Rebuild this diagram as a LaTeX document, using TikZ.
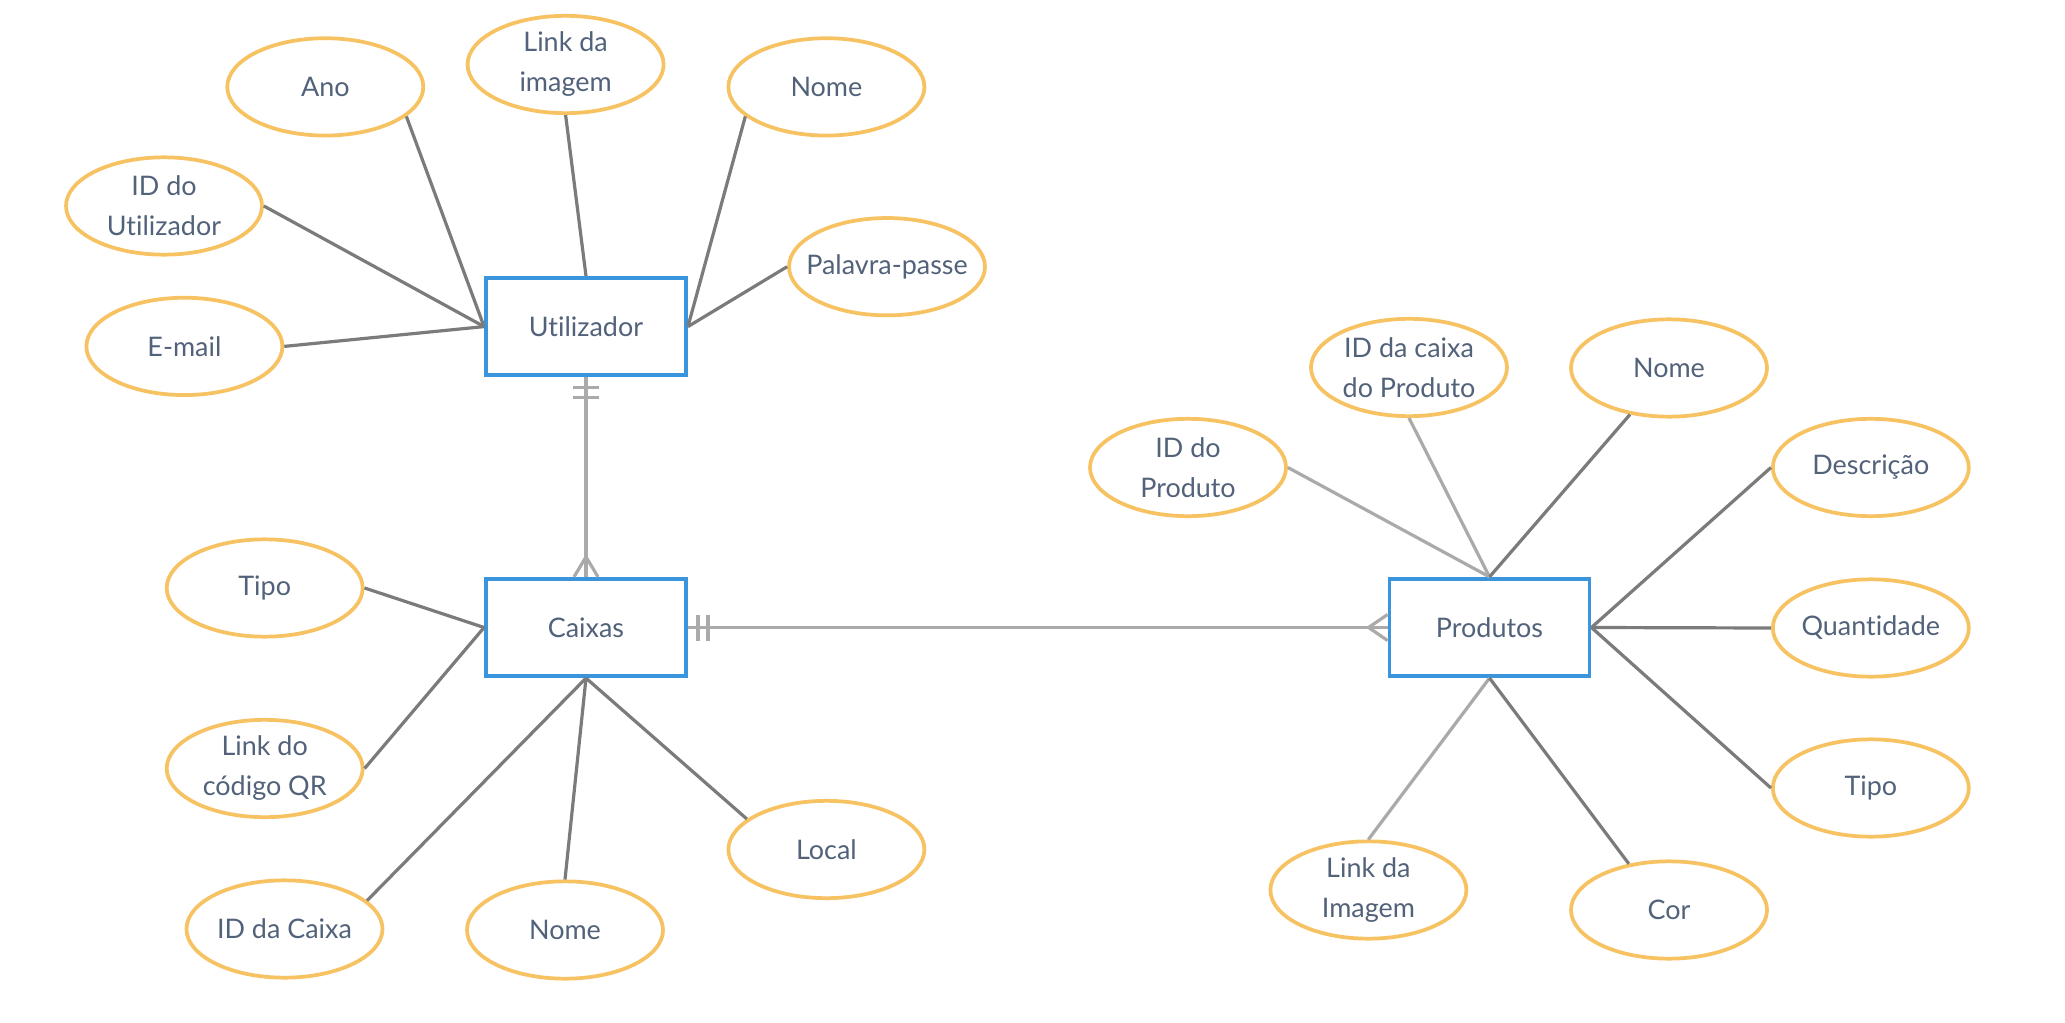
\documentclass[tikz,border=0pt]{standalone}
\usepackage{fontspec}
\setmainfont{Lato}[Ligatures=NoCommon]
\usetikzlibrary{shapes.geometric}
\definecolor{txt}{HTML}{52627A}
\definecolor{orn}{HTML}{F7C262}
\definecolor{blu}{HTML}{3A95DD}
\definecolor{dk}{HTML}{7B7B7B}
\definecolor{lt}{HTML}{AAAAAA}
\begin{document}
\begin{tikzpicture}[x=0.75pt,y=-0.75pt,
  lbl/.style={text=txt, font=\fontsize{20.2}{30}\selectfont, align=center, inner sep=0pt},
  attr/.style={ellipse, draw=orn, line width=2.8pt, fill=white, minimum width=147pt, minimum height=73pt, inner sep=0pt},
  ent/.style={rectangle, draw=blu, line width=2.9pt, fill=white, minimum width=150pt, minimum height=73pt, inner sep=0pt, lbl},
  conD/.style={draw=dk, line width=2.4pt},
  conL/.style={draw=lt, line width=2.4pt}]
\useasboundingbox (0,0) rectangle (2065,1023);
\fill[white] (0,0) rectangle (2065,1023);
% entities
\node[ent] (u) at (586,326.6) {Utilizador};
\node[ent] (c) at (586,627.5) {Caixas};
\node[ent] (p) at (1489.5,627.5) {Produtos};
% Utilizador attributes
\node[attr, label={[lbl]center:Ano}] (ano) at (325.3,86.9) {};
\node[attr, label={[lbl]center:Link da\\imagem}] (lki) at (565.6,64.5) {};
\node[attr, label={[lbl]center:Nome}] (nmu) at (826.4,86.9) {};
\node[attr, label={[lbl]center:ID do\\Utilizador}] (idu) at (164,206) {};
\node[attr, label={[lbl]center:Palavra-passe}] (pp) at (887,266.7) {};
\node[attr, label={[lbl]center:E-mail}] (em) at (184.4,346.4) {};
% Caixas attributes
\node[attr, label={[lbl]center:Tipo}] (tpc) at (264.7,588) {};
\node[attr, label={[lbl]center:Link do\\código QR}] (qr) at (264.7,768.5) {};
\node[attr, label={[lbl]center:ID da Caixa}] (idc) at (284.5,929) {};
\node[attr, label={[lbl]center:Nome}] (nmc) at (565,930) {};
\node[attr, label={[lbl]center:Local}] (loc) at (826.4,849.5) {};
% Produtos attributes
\node[attr, label={[lbl]center:ID do\\Produto}] (idp) at (1188,467.5) {};
\node[attr, label={[lbl]center:ID da caixa\\do Produto}] (idcp) at (1409,367.5) {};
\node[attr, label={[lbl]center:Nome}] (nmp) at (1669,368) {};
\node[attr, label={[lbl]center:Descrição}] (dsc) at (1870.8,467.5) {};
\node[attr, label={[lbl]center:Quantidade}] (qtd) at (1870.8,628) {};
\node[attr, label={[lbl]center:Tipo}] (tpp) at (1870.8,788) {};
\node[attr, label={[lbl]center:Link da\\Imagem}] (lkp) at (1368.4,890) {};
\node[attr, label={[lbl]center:Cor}] (cor) at (1669,910) {};
% connectors Utilizador
\draw[conD] (ano.-20) -- (u.west);
\draw[conD] (idu.east) -- (u.west);
\draw[conD] (em.east) -- (u.west);
\draw[conD] (lki.south) -- (u.north);
\draw[conD] (nmu.-160) -- (u.east);
\draw[conD] (pp.west) -- (u.east);
% connectors Caixas
\draw[conD] (tpc.east) -- (c.west);
\draw[conD] (qr.east) -- (c.west);
\draw[conD] (idc.19) -- (c.south);
\draw[conD] (nmc.north) -- (c.south);
\draw[conD] (loc.159) -- (c.south);
% connectors Produtos
\draw[conL] (idp.east) -- (p.north);
\draw[conL] (idcp.south) -- (p.north);
\draw[conD] (nmp.-130) -- (p.north);
\draw[conD] (dsc.west) -- (p.east);
\draw[conD] (qtd.west) -- (p.east);
\draw[conD] (tpp.west) -- (p.east);
\draw[conL] (lkp.north) -- (p.south);
\draw[conD] (cor.131) -- (p.south);
% relationships
\draw[conL] (u.south) -- (c.north);
\draw[conL] ([shift={(-13,10)}]u.south) -- ([shift={(13,10)}]u.south);
\draw[conL] ([shift={(-13,20)}]u.south) -- ([shift={(13,20)}]u.south);
\draw[conL] ([shift={(-12,0)}]c.north) -- ([shift={(0,-20)}]c.north) -- ([shift={(12,0)}]c.north);
\draw[conL] (c.east) -- (p.west);
\draw[conL] ([shift={(10,-13)}]c.east) -- ([shift={(10,13)}]c.east);
\draw[conL] ([shift={(20,-13)}]c.east) -- ([shift={(20,13)}]c.east);
\draw[conL] ([shift={(0,-13)}]p.west) -- ([shift={(-19,0)}]p.west) -- ([shift={(0,13)}]p.west);
\end{tikzpicture}
\end{document}
